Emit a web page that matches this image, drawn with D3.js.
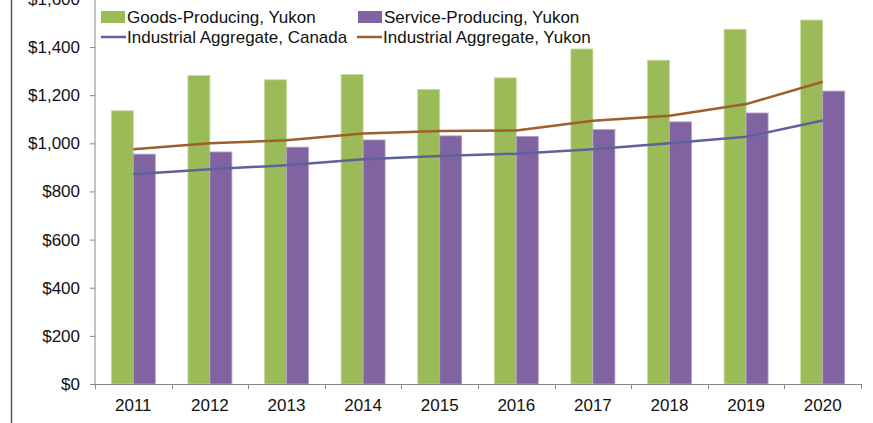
<!DOCTYPE html>
<html>
<head>
<meta charset="utf-8">
<script src="https://cdn.jsdelivr.net/npm/d3@7"></script>
<style>
body { margin: 0; background: #fff; }
svg { display: block; font-family: "Liberation Sans", Arial, sans-serif; }
</style>
</head>
<body>
<div id="chart"></div>
<script>
var years = ["2011", "2012", "2013", "2014", "2015", "2016", "2017", "2018", "2019", "2020"];
var goodsYukon = [1135, 1282, 1264, 1286, 1224, 1272, 1392, 1345, 1474, 1512];
var serviceYukon = [955, 964, 984, 1014, 1031, 1029, 1057, 1089, 1126, 1217];
var aggCanada = [871, 892, 909, 934, 947, 957, 975, 1000, 1027, 1095];
var aggYukon = [975, 1000, 1013, 1041, 1051, 1053, 1094, 1115, 1163, 1256];
var yTicks = [0, 200, 400, 600, 800, 1000, 1200, 1400, 1600];

var width = 873;
var height = 423;
var fontSize = 17;

var svg = d3.select("#chart").append("svg")
    .attr("width", width)
    .attr("height", height);

var x = d3.scaleBand().domain(years).range([95, 861]);
var y = d3.scaleLinear().domain([0, 1600]).range([384, -1.1]);

var bw = 22; // bar width
var fmt = function (d) { return "$" + d3.format(",")(d); };

// frame line on the left
svg.append("line")
    .attr("x1", 11.5).attr("x2", 11.5)
    .attr("y1", 0).attr("y2", height)
    .attr("stroke", "#555").attr("stroke-width", 1.5);

// bars
svg.selectAll("rect.goods")
    .data(goodsYukon)
    .enter().append("rect")
    .attr("class", "goods")
    .attr("x", function (d, i) { return x(years[i]) + x.bandwidth() / 2 - bw; })
    .attr("y", function (d) { return y(d); })
    .attr("width", bw)
    .attr("height", function (d) { return y(0) - y(d); })
    .attr("fill", "#9BBB59")
    .attr("stroke", "#C6DA9E")
    .attr("stroke-width", 0.8);

svg.selectAll("rect.service")
    .data(serviceYukon)
    .enter().append("rect")
    .attr("class", "service")
    .attr("x", function (d, i) { return x(years[i]) + x.bandwidth() / 2; })
    .attr("y", function (d) { return y(d); })
    .attr("width", bw)
    .attr("height", function (d) { return y(0) - y(d); })
    .attr("fill", "#8064A2")
    .attr("stroke", "#B3A2C7")
    .attr("stroke-width", 0.8);

// lines
var line = d3.line()
    .x(function (d, i) { return x(years[i]) + x.bandwidth() / 2; })
    .y(function (d) { return y(d); });

svg.append("path")
    .datum(aggCanada)
    .attr("d", line)
    .attr("fill", "none")
    .attr("stroke", "#5F619B")
    .attr("stroke-width", 2.5);

svg.append("path")
    .datum(aggYukon)
    .attr("d", line)
    .attr("fill", "none")
    .attr("stroke", "#9E5F2C")
    .attr("stroke-width", 2.5);

// y axis
var yAxis = svg.append("g")
    .attr("transform", "translate(95,0)")
    .call(d3.axisLeft(y).tickValues(yTicks).tickFormat(fmt).tickSize(5).tickPadding(10));
yAxis.select(".domain").attr("stroke", "#888").attr("d", "M0," + y(0) + "V0");
yAxis.selectAll(".tick line").attr("stroke", "#888");
yAxis.selectAll("text").attr("font-size", fontSize).attr("fill", "#111").attr("font-family", "Liberation Sans, Arial, sans-serif");

// x axis
var xAxis = svg.append("g")
    .attr("transform", "translate(0," + y(0) + ")")
    .call(d3.axisBottom(x).tickSize(0).tickPadding(15));
xAxis.select(".domain").attr("stroke", "#888").attr("d", "M95,0.5H861");
xAxis.selectAll("text").attr("font-size", fontSize).attr("fill", "#111").attr("font-family", "Liberation Sans, Arial, sans-serif");

// tick marks between categories
var bounds = years.map(function (d) { return x(d); }).concat([x(years[years.length - 1]) + x.bandwidth()]);
svg.selectAll("line.xtick")
    .data(bounds)
    .enter().append("line")
    .attr("class", "xtick")
    .attr("x1", function (d) { return Math.round(d) + 0.5; })
    .attr("x2", function (d) { return Math.round(d) + 0.5; })
    .attr("y1", y(0))
    .attr("y2", y(0) + 5)
    .attr("stroke", "#888");

// legend
var legend = [
    { name: "Goods-Producing, Yukon", type: "rect", color: "#9BBB59", lx: 101, ly: 17 },
    { name: "Service-Producing, Yukon", type: "rect", color: "#8064A2", lx: 358, ly: 17 },
    { name: "Industrial Aggregate, Canada", type: "line", color: "#5F619B", lx: 101, ly: 37 },
    { name: "Industrial Aggregate, Yukon", type: "line", color: "#9E5F2C", lx: 357, ly: 37 }
];

var lg = svg.selectAll("g.legend")
    .data(legend)
    .enter().append("g")
    .attr("class", "legend")
    .attr("transform", function (d) { return "translate(" + d.lx + "," + d.ly + ")"; });

lg.filter(function (d) { return d.type === "rect"; })
    .append("rect")
    .attr("x", 0).attr("y", -6)
    .attr("width", 24).attr("height", 12)
    .attr("fill", function (d) { return d.color; });

lg.filter(function (d) { return d.type === "line"; })
    .append("line")
    .attr("x1", 0).attr("x2", 25)
    .attr("y1", 0).attr("y2", 0)
    .attr("stroke", function (d) { return d.color; })
    .attr("stroke-width", 2.5);

lg.append("text")
    .attr("x", 26)
    .attr("y", 0)
    .attr("dy", "0.35em")
    .attr("font-size", fontSize)
    .attr("fill", "#111")
    .text(function (d) { return d.name; });
</script>
</body>
</html>
